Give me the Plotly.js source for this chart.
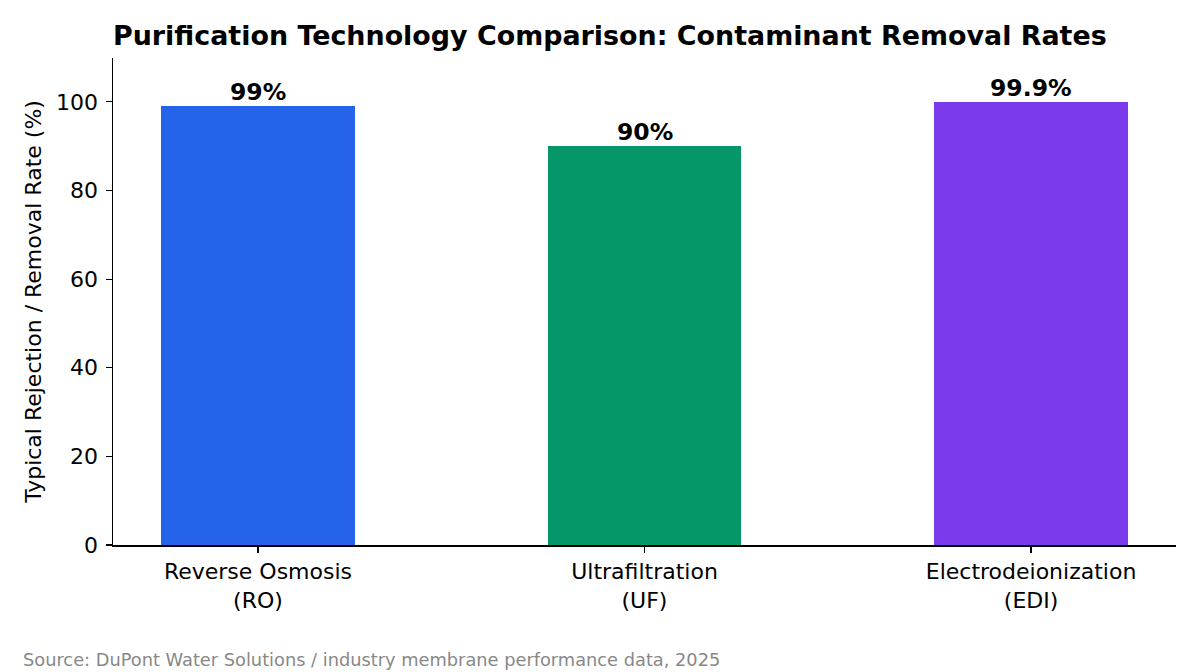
<!DOCTYPE html>
<html>
<head>
<meta charset="utf-8">
<script src="https://cdn.plot.ly/plotly-3.0.1.min.js"></script>
<style>
  html, body { margin: 0; padding: 0; background: #ffffff; }
  #chart { width: 1200px; height: 672px; }
</style>
</head>
<body>
<div id="chart"></div>
<script>
// Purification technologies and their typical contaminant removal rates
const technologies = ["Reverse Osmosis<br>(RO)", "Ultrafiltration<br>(UF)", "Electrodeionization<br>(EDI)"];
const removalRates = [99, 90, 99.9];
const barColors = ["#2563eb", "#059669", "#7c3aed"];
const yTicks = [0, 20, 40, 60, 80, 100];

const FONT = "DejaVu Sans, sans-serif";
const positions = technologies.map((_, i) => i);

const trace = {
  type: "bar",
  x: positions,
  y: removalRates,
  width: 0.5,
  marker: { color: barColors, line: { width: 0 } },
  hoverinfo: "skip"
};

// Value labels sitting on top of each bar
const valueLabels = removalRates.map((v, i) => ({
  x: positions[i], y: v,
  xref: "x", yref: "y",
  text: "<b>" + v + "%</b>",
  xanchor: "center", yanchor: "bottom",
  yshift: -1.5,
  showarrow: false,
  font: { family: FONT, size: 23.5, color: "#000000" }
}));

const layout = {
  width: 1200,
  height: 672,
  paper_bgcolor: "#ffffff",
  plot_bgcolor: "#ffffff",
  margin: { l: 113, r: 24, t: 58, b: 127 },
  showlegend: false,
  bargap: 0,
  font: { family: FONT, color: "#000000" },
  title: {
    text: "<b>Purification Technology Comparison: Contaminant Removal Rates</b>",
    font: { family: FONT, size: 26.9, color: "#000000" },
    xref: "paper", x: 0, xanchor: "left",
    yref: "container", y: 1 - 36 / 672, yanchor: "middle"
  },
  xaxis: {
    range: [-0.375, 2.375],
    tickmode: "array",
    tickvals: positions,
    ticktext: technologies,
    ticks: "outside",
    ticklen: 6,
    tickwidth: 1.2,
    tickcolor: "#000000",
    showline: true,
    linecolor: "#000000",
    linewidth: 1.5,
    showgrid: false,
    zeroline: false,
    tickfont: { family: FONT, size: 22, color: "#000000" },
    fixedrange: true
  },
  yaxis: {
    range: [0, 109.9],
    tickmode: "array",
    tickvals: yTicks,
    ticktext: yTicks.map(String),
    ticks: "outside",
    ticklen: 6,
    tickwidth: 1.2,
    tickcolor: "#000000",
    ticklabelstandoff: 3,
    showline: true,
    linecolor: "#000000",
    linewidth: 1.5,
    showgrid: false,
    zeroline: false,
    tickfont: { family: FONT, size: 22, color: "#000000" },
    title: {
      text: "Typical Rejection / Removal Rate (%)",
      font: { family: FONT, size: 22, color: "#000000" },
      standoff: 8
    },
    fixedrange: true
  },
  annotations: valueLabels.concat([
    {
      text: "Source: DuPont Water Solutions / industry membrane performance data, 2025",
      xref: "paper", yref: "paper",
      x: -(113 - 21) / 1063, y: -(659 - 545) / 487,
      xanchor: "left", yanchor: "middle",
      showarrow: false,
      font: { family: FONT, size: 17.8, color: "#888888" }
    }
  ])
};

Plotly.newPlot("chart", [trace], layout, { displayModeBar: false, staticPlot: true });
</script>
</body>
</html>
